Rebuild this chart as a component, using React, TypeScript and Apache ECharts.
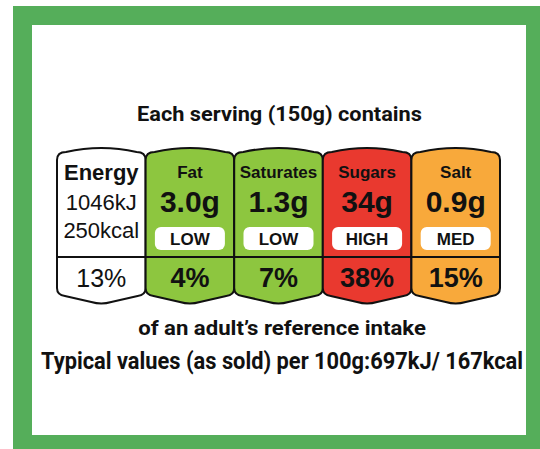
import React, { useEffect, useRef } from "react";
import * as echarts from "echarts";

const nutrients = ["Energy", "Fat", "Saturates", "Sugars", "Salt"];
const amounts = ["1046kJ", "3.0g", "1.3g", "34g", "0.9g"];
const energyKcal = "250kcal";
const levels = ["", "LOW", "LOW", "HIGH", "MED"];
const percents = [13, 4, 7, 38, 15];
const cellColors = ["#ffffff", "#8dc63f", "#8dc63f", "#e9392f", "#f8a93b"];

const headerText = "Each serving (150g) contains";
const footerText1 = "of an adult\u2019s reference intake";
const footerText2 = "Typical values (as sold) per 100g:697kJ/ 167kcal";

const INK = "#111111";
const SANS = "'Liberation Sans', Arial, sans-serif";
const NARROW = "Roboto, 'Liberation Sans', sans-serif";
const NARROW_WEIGHT = "bold";

function measure(text: string, size: number): number {
  const c = document.createElement("canvas").getContext("2d");
  if (!c) return 1;
  c.font = `${NARROW_WEIGHT} ${size}px ${NARROW}`;
  return c.measureText(text).width || 1;
}

function fitText(text: string, x: number, y: number, size: number, targetWidth: number) {
  return {
    type: "text",
    x,
    y,
    scaleX: targetWidth / measure(text, size),
    style: {
      text,
      fontSize: size,
      fontWeight: NARROW_WEIGHT,
      fontFamily: NARROW,
      fill: INK,
      align: "center",
      verticalAlign: "middle",
    },
  };
}

export default function App() {
  const ref = useRef<HTMLDivElement>(null);
  useEffect(() => {
    if (!ref.current) return;
    const chart = echarts.init(ref.current, null, { renderer: "svg" });
    const renderItem = (params: any, api: any) => {
      const idx = api.value(0);
      const cx = api.coord([idx, 0])[0];
      const w = api.size([1, 0])[0];
      const cs = params.coordSys;
      const top = cs.y;
      const bottom = cs.y + cs.height;
      const L = cx - w / 2;
      const R = cx + w / 2;
      const yC = top + 14;
      const yDiv = top + 111;
      const yBC = bottom - 16;
      const d =
        `M ${L} ${yC} Q ${L} ${top + 6} ${L + 9} ${top + 6} ` +
        `Q ${cx} ${top - 2} ${R - 9} ${top + 6} Q ${R} ${top + 6} ${R} ${yC} ` +
        `L ${R} ${yBC} Q ${R} ${bottom - 9} ${R - 8} ${bottom - 8} ` +
        `L ${cx + 10} ${bottom - 2} Q ${cx} ${bottom + 1} ${cx - 10} ${bottom - 2} ` +
        `L ${L + 8} ${bottom - 8} Q ${L} ${bottom - 9} ${L} ${yBC} Z`;
      const children: any[] = [
        {
          type: "path",
          shape: { pathData: d },
          style: { fill: cellColors[idx], stroke: INK, lineWidth: 2 },
        },
        {
          type: "line",
          shape: { x1: L, y1: yDiv, x2: R, y2: yDiv },
          style: { stroke: INK, lineWidth: 2 },
        },
      ];
      const txt = (text: string, y: number, size: number, weight: string) => ({
        type: "text",
        style: {
          text,
          x: cx,
          y,
          fill: INK,
          fontSize: size,
          fontWeight: weight,
          fontFamily: SANS,
          align: "center",
          verticalAlign: "middle",
        },
      });
      if (idx === 0) {
        children.push(txt(nutrients[idx], top + 26, 22, "bold"));
        children.push(txt(amounts[idx], top + 56, 22, "normal"));
        children.push(txt(energyKcal, top + 84, 22, "normal"));
        children.push(txt(percents[idx] + "%", top + 132, 25, "normal"));
      } else {
        children.push(txt(nutrients[idx], top + 26, 17, "bold"));
        children.push(txt(amounts[idx], top + 55, 30, "bold"));
        children.push({
          type: "rect",
          shape: { x: cx - 35, y: top + 81, width: 70, height: 23, r: 6 },
          style: { fill: "#ffffff" },
        });
        children.push(txt(levels[idx], top + 93, 17, "bold"));
        children.push(txt(percents[idx] + "%", top + 132, 27, "bold"));
      }
      return { type: "group", children };
    };

    chart.setOption({
      animation: false,
      backgroundColor: "#ffffff",
      graphic: [
        { type: "rect", z: -10, shape: { x: 13, y: 6, width: 527, height: 443 }, style: { fill: "#55ae5a" } },
        { type: "rect", z: -9, shape: { x: 32, y: 25, width: 494, height: 410 }, style: { fill: "#ffffff" } },
        fitText(headerText, 279.5, 114, 20, 285),
        fitText(footerText1, 282, 328, 20.5, 288),
        fitText(footerText2, 282, 361, 23.5, 482),
      ],
      grid: { left: 57, right: 40, top: 146, bottom: 145 },
      xAxis: { type: "category", data: nutrients, show: false, boundaryGap: true },
      yAxis: { type: "value", min: 0, max: 1, show: false },
      series: [
        {
          type: "custom",
          renderItem,
          data: percents.map((p, i) => [i, p]),
          clip: false,
        },
      ],
    });
    return () => chart.dispose();
  }, []);
  return (
    <div
      ref={ref}
      style={{ position: "fixed", left: 0, top: 0, width: 540, height: 449 }}
    />
  );
}
